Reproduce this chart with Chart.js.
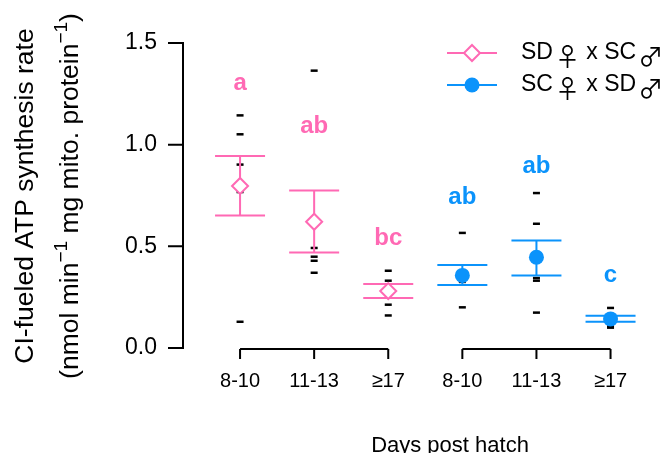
<!DOCTYPE html>
<html>
<head>
<meta charset="utf-8">
<script src="https://cdn.jsdelivr.net/npm/chart.js@4.4.1/dist/chart.umd.min.js"></script>
<style>
  body { margin: 0; background: #fff; }
</style>
</head>
<body>
<canvas id="atpChart" width="665" height="453"></canvas>
<script>
// Dados
const ages = ['8-10', '11-13', '≥17'];
const crosses = ['SD♀ x SC♂', 'SC♀ x SD♂'];
const yTicks = [0, 0.5, 1.0, 1.5];

// SD♀ x SC♂ (rosa)
const sdMean = [0.797, 0.621, 0.280];
const sdUpper = [0.944, 0.774, 0.315];
const sdLower = [0.652, 0.470, 0.246];
const sdPoints = [
    [1.144, 1.051, 0.902, 0.767, 0.129],
    [1.364, 0.492, 0.449, 0.429, 0.370],
    [0.380, 0.331, 0.213, 0.160]
];
const sdLetters = ['a', 'ab', 'bc'];
const sdLetterY = [1.267, 1.058, 0.508];

// SC♀ x SD♂ (azul)
const scMean = [0.357, 0.446, 0.143];
const scUpper = [0.408, 0.529, 0.159];
const scLower = [0.310, 0.357, 0.129];
const scPoints = [
    [0.566, 0.325, 0.200],
    [0.762, 0.611, 0.344, 0.331, 0.174],
    [0.197, 0.107, 0.100]
];
const scLetters = ['ab', 'ab', 'c'];
const scLetterY = [0.710, 0.861, 0.323];

const PINK = '#ff69b4';
const BLUE = '#0b93fb';
const FONT = "'Liberation Sans', Arial, sans-serif";

// posição de cada grupo no eixo x
const sdX = ages.map((_, i) => i);
const scX = ages.map((_, i) => i + ages.length);

const pontos = [];
sdPoints.forEach((arr, i) => arr.forEach(v => pontos.push({x: sdX[i], y: v})));
scPoints.forEach((arr, i) => arr.forEach(v => pontos.push({x: scX[i], y: v})));

const groups = [
    {x: sdX, mean: sdMean, up: sdUpper, lo: sdLower, color: PINK, letters: sdLetters, letterY: sdLetterY},
    {x: scX, mean: scMean, up: scUpper, lo: scLower, color: BLUE, letters: scLetters, letterY: scLetterY}
];

// Desenha texto com sobrescritos (rotacionado)
const drawRich = (ctx, parts, cx, cy, size) => {
    ctx.save();
    ctx.translate(cx, cy);
    ctx.rotate(-Math.PI / 2);
    const supSize = Math.round(size * 0.7);
    let total = 0;
    parts.forEach(p => {
        ctx.font = `${p.sup ? supSize : size}px ${FONT}`;
        total += ctx.measureText(p.t).width;
    });
    let x = -total / 2;
    ctx.textAlign = 'left';
    ctx.textBaseline = 'alphabetic';
    parts.forEach(p => {
        ctx.font = `${p.sup ? supSize : size}px ${FONT}`;
        ctx.fillText(p.t, x, p.sup ? -size * 0.42 : 0);
        x += ctx.measureText(p.t).width;
    });
    ctx.restore();
};

// Texto da legenda: símbolos ♀/♂ numa fonte CJK (traço fino)
const drawLegendText = (ctx, text, x, y) => {
    text.split(/([♀♂])/).filter(s => s).forEach(s => {
        const simbolo = s === '♀' || s === '♂';
        if (simbolo) x += 2;
        ctx.font = simbolo ? "25px 'Noto Sans CJK JP', sans-serif" : `23px ${FONT}`;
        ctx.fillText(s, x, simbolo ? y + 3 : y);
        x += ctx.measureText(s).width;
    });
};

const errorBars = {
    id: 'errorBars',
    afterDatasetDraw(chart, args) {
        if (args.index !== 0) return;
        const {ctx, scales: {x, y}} = chart;
        ctx.save();
        ctx.lineWidth = 2;
        groups.forEach(g => {
            ctx.strokeStyle = g.color;
            g.x.forEach((gx, i) => {
                const px = x.getPixelForValue(gx);
                const pu = y.getPixelForValue(g.up[i]);
                const pl = y.getPixelForValue(g.lo[i]);
                ctx.beginPath();
                ctx.moveTo(px, pu); ctx.lineTo(px, pl);
                ctx.moveTo(px - 25, pu); ctx.lineTo(px + 25, pu);
                ctx.moveTo(px - 25, pl); ctx.lineTo(px + 25, pl);
                ctx.stroke();
            });
        });
        ctx.restore();
    }
};

const decoracao = {
    id: 'decoracao',
    afterDraw(chart) {
        const {ctx, scales: {x, y}} = chart;
        ctx.save();
        ctx.strokeStyle = '#000';
        ctx.fillStyle = '#000';
        ctx.lineWidth = 2;

        // eixo y
        const ax = 183;
        ctx.beginPath();
        ctx.moveTo(ax, y.getPixelForValue(yTicks[0]));
        ctx.lineTo(ax, y.getPixelForValue(yTicks[yTicks.length - 1]));
        yTicks.forEach(t => {
            ctx.moveTo(ax - 15, y.getPixelForValue(t));
            ctx.lineTo(ax + 1, y.getPixelForValue(t));
        });
        ctx.stroke();
        ctx.font = `23px ${FONT}`;
        ctx.textAlign = 'right';
        ctx.textBaseline = 'middle';
        yTicks.forEach(t => ctx.fillText(t.toFixed(1), 157, y.getPixelForValue(t)));

        // eixo x em dois blocos
        const by = y.getPixelForValue(0) + 1;
        ctx.font = `20px ${FONT}`;
        ctx.textAlign = 'center';
        [sdX, scX].forEach(xs => {
            ctx.beginPath();
            ctx.moveTo(x.getPixelForValue(xs[0]), by);
            ctx.lineTo(x.getPixelForValue(xs[xs.length - 1]), by);
            xs.forEach(v => {
                ctx.moveTo(x.getPixelForValue(v), by);
                ctx.lineTo(x.getPixelForValue(v), by + 10);
            });
            ctx.stroke();
            xs.forEach((v, i) => ctx.fillText(ages[i], x.getPixelForValue(v), 381));
        });

        // títulos
        ctx.font = `22px ${FONT}`;
        ctx.textBaseline = 'alphabetic';
        ctx.fillText('Days post hatch', 450, 452);
        drawRich(ctx, [{t: 'CI-fueled ATP synthesis rate'}], 33, 196, 26.5);
        drawRich(ctx, [
            {t: '(nmol min'}, {t: '−1', sup: true},
            {t: ' mg mito. protein'}, {t: '−1', sup: true}, {t: ')'}
        ], 78, 196, 26.5);

        // letras de significância
        ctx.font = `bold 24px ${FONT}`;
        groups.forEach(g => {
            ctx.fillStyle = g.color;
            g.x.forEach((gx, i) => ctx.fillText(g.letters[i], x.getPixelForValue(gx), y.getPixelForValue(g.letterY[i])));
        });

        // legenda
        const legY = [53, 85];
        groups.forEach((g, i) => {
            ctx.strokeStyle = g.color;
            ctx.beginPath();
            ctx.moveTo(447, legY[i]); ctx.lineTo(497, legY[i]);
            ctx.stroke();
            ctx.beginPath();
            if (i === 0) {
                ctx.fillStyle = '#fff';
                ctx.moveTo(472, legY[i] - 8); ctx.lineTo(480, legY[i]);
                ctx.lineTo(472, legY[i] + 8); ctx.lineTo(464, legY[i]);
                ctx.closePath();
                ctx.fill(); ctx.stroke();
            } else {
                ctx.fillStyle = g.color;
                ctx.arc(472, legY[i], 7.5, 0, Math.PI * 2);
                ctx.fill();
            }
            ctx.fillStyle = '#000';
            ctx.textAlign = 'left';
            ctx.textBaseline = 'middle';
            drawLegendText(ctx, crosses[i], 521, legY[i]);
        });
        ctx.restore();
    }
};

const ctx = document.getElementById('atpChart').getContext('2d');
new Chart(ctx, {
    type: 'scatter',
    data: {
        datasets: [{
            label: 'individuais',
            data: pontos,
            pointStyle: 'line',
            radius: 3.5,
            borderWidth: 2.5,
            borderColor: '#000',
            order: 3
        }, {
            label: crosses[0],
            data: sdX.map((v, i) => ({x: v, y: sdMean[i]})),
            pointStyle: 'rectRot',
            radius: 8,
            borderWidth: 2,
            borderColor: PINK,
            backgroundColor: '#fff',
            order: 1
        }, {
            label: crosses[1],
            data: scX.map((v, i) => ({x: v, y: scMean[i]})),
            pointStyle: 'circle',
            radius: 7.5,
            borderWidth: 0,
            backgroundColor: BLUE,
            order: 1
        }]
    },
    options: {
        responsive: false,
        animation: false,
        layout: { padding: { left: 183, right: 2, top: 43, bottom: 105 } },
        plugins: { legend: { display: false }, tooltip: { enabled: false } },
        events: [],
        scales: {
            x: { type: 'linear', min: -0.77, max: 5.6, display: false },
            y: { min: 0, max: 1.5, display: false }
        }
    },
    plugins: [errorBars, decoracao]
});
</script>
</body>
</html>
